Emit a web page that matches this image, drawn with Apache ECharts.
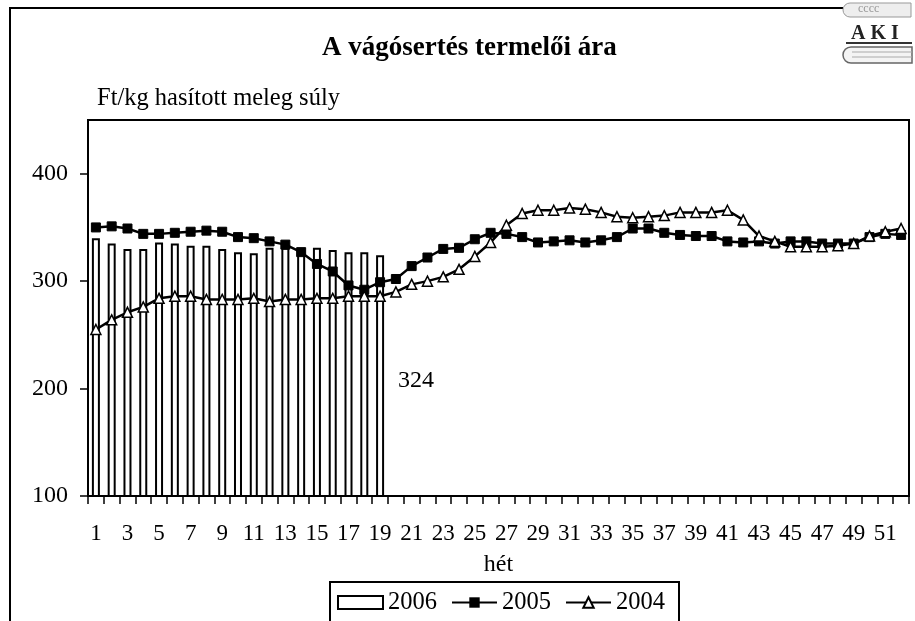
<!DOCTYPE html>
<html>
<head>
<meta charset="utf-8">
<script src="https://cdn.jsdelivr.net/npm/echarts@6/dist/echarts.min.js"></script>
<style>
  html, body { margin: 0; padding: 0; background: #fff; }
  #chart { width: 915px; height: 621px; }
</style>
</head>
<body>
<div id="chart"></div>
<script>
// hetek (1..52)
const weeks = [];
for (let i = 1; i <= 52; i++) weeks.push(String(i));

// Ft/kg, leolvasva az abrarol
const y2006 = [340, 335, 330, 330, 336, 335, 333, 333, 330, 327, 326, 331, 331, 330, 331, 329, 327, 327, 324];
const y2005 = [350, 351, 349, 344, 344, 345, 346, 347, 346, 341, 340, 337, 334, 327, 316, 309, 296, 292, 299, 302,
  314, 322, 330, 331, 339, 345, 344, 341, 336, 337, 338, 336, 338, 341, 349, 349, 345, 343, 342, 342,
  337, 336, 337, 335, 337, 337, 335, 335, 335, 341, 344, 343];
const y2004 = [255, 264, 271, 276, 284, 286, 286, 283, 283, 283, 284, 281, 283, 283, 284, 284, 286, 286, 286, 290,
  297, 300, 304, 311, 323, 336, 352, 363, 366, 366, 368, 367, 364, 360, 359, 360, 361, 364, 364, 364,
  366, 357, 342, 337, 332, 332, 332, 333, 335, 342, 346, 349];
const yTicks = [100, 200, 300, 400];

const font = 'Liberation Serif';
const chart = echarts.init(document.getElementById('chart'));
const lastBar = y2006.length - 1;

chart.setOption({
  animation: false,
  backgroundColor: '#fff',
  title: {
    text: 'A vágósertés termelői ára',
    left: 317,
    top: 30,
    textStyle: { fontFamily: font, fontSize: 27, fontWeight: 'bold', color: '#000' }
  },
  legend: {
    data: [{ name: '2006', icon: 'rect' }, '2005', '2004'],
    left: 330,
    top: 582,
    itemWidth: 45,
    itemHeight: 13,
    itemGap: 14,
    padding: [8, 14, 20, 7],
    borderColor: '#000',
    borderWidth: 2,
    textStyle: { fontFamily: font, fontSize: 24.5, color: '#000' }
  },
  grid: { left: 88, right: 6, top: 120, bottom: 125, show: true, borderColor: '#000', borderWidth: 2, outerBoundsMode: 'none' },
  xAxis: {
    type: 'category',
    data: weeks,
    name: 'hét',
    nameLocation: 'middle',
    nameGap: 57,
    nameTextStyle: { fontFamily: font, fontSize: 24, color: '#000' },
    axisLine: { show: true, lineStyle: { color: '#000', width: 2 } },
    axisTick: { show: true, interval: 0, inside: false, length: 8, lineStyle: { color: '#000', width: 1.5 } },
    axisLabel: { interval: 1, margin: 26, fontFamily: font, fontSize: 23, color: '#000' }
  },
  yAxis: {
    type: 'value',
    min: 100,
    max: 450,
    interval: 100,
    name: 'Ft/kg hasított meleg súly',
    nameLocation: 'end',
    nameGap: 9,
    nameTextStyle: { fontFamily: font, fontSize: 24.5, color: '#000', align: 'left', padding: [0, 0, 0, 9] },
    splitLine: { show: false },
    axisLine: { show: true, lineStyle: { color: '#000', width: 2 } },
    axisTick: { show: true, length: 8, customValues: yTicks, lineStyle: { color: '#000', width: 1.5 } },
    axisLabel: { margin: 20, customValues: yTicks, fontFamily: font, fontSize: 24, color: '#000' }
  },
  series: [
    {
      name: '2006',
      type: 'bar',
      data: y2006,
      barWidth: 8,
      itemStyle: { color: '#fff', borderColor: '#000', borderWidth: 2 },
      label: {
        show: true,
        position: [40, 125],
        align: 'center',
        verticalAlign: 'middle',
        fontFamily: font,
        fontSize: 24,
        color: '#000',
        formatter: p => (p.dataIndex === lastBar ? String(p.value) : '')
      }
    },
    {
      name: '2005',
      type: 'line',
      data: y2005,
      symbol: 'rect',
      symbolSize: 9,
      lineStyle: { color: '#000', width: 2.5 },
      itemStyle: { color: '#000', borderColor: '#000' },
      z: 3
    },
    {
      name: '2004',
      type: 'line',
      data: y2004,
      symbol: 'triangle',
      symbolSize: 10,
      lineStyle: { color: '#000', width: 2.5 },
      itemStyle: { color: '#fff', borderColor: '#000', borderWidth: 1.5 },
      z: 4
    }
  ],
  graphic: [
    // kulso keret
    { type: 'polyline', shape: { points: [[10, 621], [10, 8], [843, 8]] }, style: { stroke: '#000', lineWidth: 2, fill: null } },
    // AKI logo
    { type: 'rect', shape: { x: 843, y: 3, width: 68, height: 14, r: [7, 0, 0, 7] }, style: { fill: '#eee', stroke: '#999', lineWidth: 1 } },
    { type: 'text', left: 858, top: 3, style: { text: 'cccc', fontFamily: font, fontSize: 12, fill: '#999' } },
    { type: 'text', left: 851, top: 24, style: { text: 'A K I', fontFamily: font, fontSize: 20, fontWeight: 'bold', fill: '#222' } },
    { type: 'line', shape: { x1: 846, y1: 43, x2: 912, y2: 43 }, style: { stroke: '#333', lineWidth: 2 } },
    { type: 'rect', shape: { x: 843, y: 47, width: 69, height: 16, r: [8, 0, 0, 8] }, style: { fill: '#f4f4f4', stroke: '#666', lineWidth: 1.5 } },
    { type: 'line', shape: { x1: 852, y1: 52, x2: 912, y2: 52 }, style: { stroke: '#aaa', lineWidth: 1 } },
    { type: 'line', shape: { x1: 852, y1: 57, x2: 912, y2: 57 }, style: { stroke: '#aaa', lineWidth: 1 } }
  ]
});
</script>
</body>
</html>
